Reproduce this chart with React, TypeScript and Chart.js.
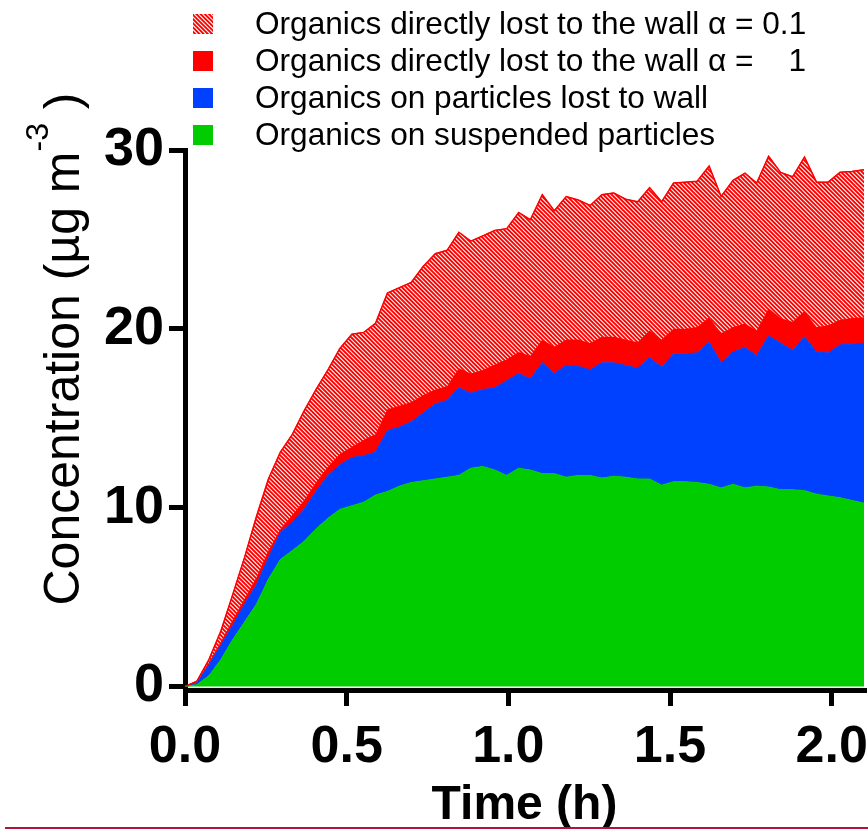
import React, { useEffect, useRef } from "react";
import { Chart, registerables } from "chart.js";

Chart.register(...registerables);

// Time (h)
const timeH = [
  0, 0.037, 0.074, 0.111, 0.147, 0.184, 0.221, 0.258, 0.295, 0.332,
  0.368, 0.405, 0.442, 0.479, 0.516, 0.553, 0.589, 0.626, 0.663, 0.7,
  0.737, 0.774, 0.811, 0.847, 0.884, 0.921, 0.958, 0.995, 1.032, 1.068,
  1.105, 1.142, 1.179, 1.216, 1.253, 1.289, 1.326, 1.363, 1.4, 1.437,
  1.474, 1.511, 1.547, 1.584, 1.621, 1.658, 1.695, 1.732, 1.768, 1.805,
  1.842, 1.879, 1.916, 1.953, 1.989, 2.026, 2.063, 2.1,
];

// Organics on suspended particles (top of green layer)
const suspendedParticles = [
  0, 0.1, 0.6, 1.5, 2.6, 3.6, 4.6, 6.0, 7.1, 7.6,
  8.1, 8.8, 9.4, 9.9, 10.1, 10.3, 10.7, 10.9, 11.2, 11.4,
  11.5, 11.6, 11.7, 11.8, 12.2, 12.3, 12.1, 11.8, 12.2, 12.1,
  11.9, 11.9, 11.7, 11.8, 11.8, 11.65, 11.75, 11.7, 11.6, 11.6,
  11.25, 11.45, 11.45, 11.4, 11.3, 11.1, 11.3, 11.1, 11.2, 11.15,
  11.0, 11.0, 10.95, 10.75, 10.65, 10.55, 10.4, 10.25,
];

// + Organics on particles lost to wall (top of blue layer)
const particlesLostTotal = [
  0, 0.2, 1.2, 2.3, 3.4, 4.6, 5.7, 7.2, 8.6, 9.2,
  9.9, 10.9, 11.8, 12.4, 12.8, 12.9, 13.1, 14.3, 14.5, 14.8,
  15.3, 15.8, 16.0, 16.7, 16.4, 16.6, 16.7, 17.1, 17.5, 17.2,
  18.1, 17.5, 17.95, 17.9, 17.7, 18.1, 18.1, 17.95, 17.8, 18.4,
  17.85, 18.6, 18.6, 18.65, 19.25, 18.1, 18.7, 18.95, 18.5, 19.6,
  19.2, 18.8, 19.55, 18.7, 18.65, 19.1, 19.15, 19.2,
];

// + Organics directly lost to the wall, alpha = 1 (top of solid red layer)
const wallAlpha1Total = [
  0, 0.25, 1.35, 2.5, 3.7, 4.9, 6.1, 7.6, 8.8, 9.6,
  10.4, 11.4, 12.3, 13.0, 13.4, 13.8, 14.1, 15.5, 15.7, 15.9,
  16.3, 16.6, 16.8, 17.8, 17.5, 17.7, 18.0, 18.3, 18.7, 18.5,
  19.4, 19.0, 19.4, 19.4, 19.2, 19.55, 19.55, 19.4, 19.25, 19.9,
  19.4, 20.0, 20.0, 20.1, 20.65, 19.75, 20.1, 20.3, 19.9, 21.15,
  20.6, 20.4, 21.0, 20.1, 20.2, 20.5, 20.6, 20.65,
];

// + Organics directly lost to the wall, alpha = 0.1 (top of hatched layer)
const wallAlpha01Total = [
  0, 0.3, 1.5, 3.1, 5.1, 7.2, 9.5, 11.6, 13.1, 14.1,
  15.4, 16.6, 17.7, 18.9, 19.7, 19.8, 20.3, 22.0, 22.3, 22.6,
  23.5, 24.2, 24.4, 25.4, 24.9, 25.2, 25.5, 25.6, 26.5, 26.1,
  27.5, 26.6, 27.4, 27.2, 26.9, 27.5, 27.6, 27.25, 27.1, 27.9,
  27.1, 28.15, 28.2, 28.25, 29.1, 27.4, 28.3, 28.7, 28.15, 29.65,
  28.75, 28.5, 29.6, 28.2, 28.2, 28.75, 28.8, 28.9,
];

const seriesLabels = [
  "Organics on suspended particles",
  "Organics on particles lost to wall",
  "Organics directly lost to the wall \u03b1 =    1",
  "Organics directly lost to the wall \u03b1 = 0.1",
];

const xTickValues = [0, 0.5, 1.0, 1.5, 2.0];
const yTickValues = [0, 10, 20, 30];

const GREEN = "#00cc00";
const BLUE = "#0040ff";
const RED = "#ff0000";
const FONT = '"Liberation Sans", Arial, Helvetica, sans-serif';

function hatchArea(ctx: CanvasRenderingContext2D, left: number, top: number, right: number, bottom: number) {
  const h = bottom - top;
  ctx.strokeStyle = "rgba(255,255,255,0.95)";
  ctx.lineWidth = 1.1;
  ctx.beginPath();
  for (let c = left - h - 4; c <= right + 4; c += 4.2) {
    ctx.moveTo(c, top);
    ctx.lineTo(c + h, bottom);
  }
  ctx.stroke();
}

const overlayPlugin = {
  id: "overlay",
  afterDatasetsDraw(chart: any) {
    const ctx: CanvasRenderingContext2D = chart.ctx;
    const top = chart.getDatasetMeta(3).data;
    const below = chart.getDatasetMeta(2).data;
    const a = chart.chartArea;
    ctx.save();
    ctx.beginPath();
    ctx.rect(a.left, a.top - 10, a.right - a.left, a.bottom - a.top + 10);
    ctx.clip();
    ctx.beginPath();
    top.forEach((p: any, i: number) => (i ? ctx.lineTo(p.x, p.y) : ctx.moveTo(p.x, p.y)));
    for (let i = below.length - 1; i >= 0; i--) ctx.lineTo(below[i].x, below[i].y);
    ctx.closePath();
    ctx.clip();
    hatchArea(ctx, a.left, a.top - 10, a.right, a.bottom);
    ctx.restore();

    ctx.save();
    ctx.strokeStyle = RED;
    ctx.lineWidth = 1.5;
    ctx.beginPath();
    top.forEach((p: any, i: number) => (i ? ctx.lineTo(p.x, p.y) : ctx.moveTo(p.x, p.y)));
    ctx.stroke();
    ctx.restore();
  },
  afterDraw(chart: any) {
    const ctx: CanvasRenderingContext2D = chart.ctx;
    ctx.save();

    // Legend (top to bottom: last dataset first)
    const ds = chart.data.datasets;
    const boxX = 193;
    const boxSize = 20;
    const textX = 255;
    const firstRow = 24;
    const pitch = 37;
    ctx.font = `31.6px ${FONT}`;
    ctx.textBaseline = "middle";
    ctx.textAlign = "left";
    for (let r = 0; r < ds.length; r++) {
      const d = ds[ds.length - 1 - r];
      const cy = firstRow + r * pitch;
      ctx.fillStyle = d.backgroundColor;
      ctx.fillRect(boxX, cy - boxSize / 2, boxSize, boxSize);
      if (d.hatched) {
        ctx.save();
        ctx.beginPath();
        ctx.rect(boxX, cy - boxSize / 2, boxSize, boxSize);
        ctx.clip();
        hatchArea(ctx, boxX, cy - boxSize / 2, boxX + boxSize, cy + boxSize / 2);
        ctx.restore();
      }
      ctx.fillStyle = "#000";
      ctx.fillText(d.label, textX, cy + 1);
    }

    // Y axis title with superscript
    ctx.save();
    ctx.translate(79, 349);
    ctx.rotate(-Math.PI / 2);
    ctx.textBaseline = "alphabetic";
    const mainFont = `50px ${FONT}`;
    const supFont = `32px ${FONT}`;
    const part1 = "Concentration (\u00b5g m";
    const sup = "-3";
    const part2 = " )";
    ctx.font = mainFont;
    const w1 = ctx.measureText(part1).width;
    const w3 = ctx.measureText(part2).width;
    ctx.font = supFont;
    const w2 = ctx.measureText(sup).width;
    const total = w1 + w2 + w3;
    let x = -total / 2;
    ctx.fillStyle = "#000";
    ctx.textAlign = "left";
    ctx.font = mainFont;
    ctx.fillText(part1, x, 0);
    x += w1;
    ctx.font = supFont;
    ctx.fillText(sup, x, -31);
    x += w2;
    ctx.font = mainFont;
    ctx.fillText(part2, x, 0);
    ctx.restore();

    // X axis title
    ctx.font = `bold 48px ${FONT}`;
    ctx.textAlign = "center";
    ctx.textBaseline = "alphabetic";
    ctx.fillStyle = "#000";
    const xs = chart.scales.x;
    ctx.fillText("Time (h)", (xs.left + xs.right) / 2, 819);

    // bottom rule
    ctx.fillStyle = "#b3133a";
    ctx.fillRect(5, 827, 863, 2);

    ctx.restore();
  },
};

export default function App() {
  const ref = useRef<HTMLCanvasElement>(null);

  useEffect(() => {
    const canvas = ref.current!;
    const ctx = canvas.getContext("2d")!;

    const mk = (label: string, ys: number[], color: string, fill: any, hatched = false) => ({
      label,
      data: timeH.map((t, i) => ({ x: t, y: ys[i] })),
      backgroundColor: color,
      borderColor: color,
      borderWidth: 1,
      pointRadius: 0,
      tension: 0,
      fill,
      hatched,
    });

    const chart = new Chart(ctx, {
      type: "line",
      data: {
        datasets: [
          mk(seriesLabels[0], suspendedParticles, GREEN, "origin"),
          mk(seriesLabels[1], particlesLostTotal, BLUE, "-1"),
          mk(seriesLabels[2], wallAlpha1Total, RED, "-1"),
          mk(seriesLabels[3], wallAlpha01Total, RED, "-1", true),
        ] as any,
      },
      options: {
        responsive: false,
        animation: false,
        devicePixelRatio: 1,
        layout: { padding: { top: 150, right: 4, left: 0, bottom: 0 } },
        plugins: {
          legend: { display: false },
          tooltip: { enabled: false },
        },
        scales: {
          x: {
            type: "linear",
            min: 0,
            max: 2.1,
            afterBuildTicks: (s: any) => {
              s.ticks = xTickValues.map((v) => ({ value: v }));
            },
            afterFit: (s: any) => {
              s.height = 141;
              s.paddingLeft = 0;
              s.paddingRight = 0;
            },
            ticks: {
              callback: (v: any) => Number(v).toFixed(1),
              font: { family: FONT, size: 52, weight: "bold" },
              color: "#000",
              padding: 10,
              maxRotation: 0,
              autoSkip: false,
            },
            grid: {
              drawOnChartArea: false,
              drawTicks: true,
              tickLength: 16,
              lineWidth: 5,
              color: "#000",
            },
            border: { display: true, width: 5, color: "#000" },
          },
          y: {
            type: "linear",
            min: -0.2,
            max: 30,
            afterBuildTicks: (s: any) => {
              s.ticks = yTickValues.map((v) => ({ value: v }));
            },
            afterFit: (s: any) => {
              s.width = 185;
              s.paddingTop = 0;
              s.paddingBottom = 0;
            },
            ticks: {
              font: { family: FONT, size: 54, weight: "bold" },
              color: "#000",
              padding: 5,
              autoSkip: false,
            },
            grid: {
              drawOnChartArea: false,
              drawTicks: true,
              tickLength: 16,
              lineWidth: 5,
              color: "#000",
            },
            border: { display: true, width: 5, color: "#000" },
          },
        },
      } as any,
      plugins: [overlayPlugin],
    });

    return () => chart.destroy();
  }, []);

  return (
    <div style={{ position: "fixed", left: 0, top: 0, width: 868, height: 831, background: "#fff" }}>
      <canvas ref={ref} width={868} height={831} style={{ display: "block" }} />
    </div>
  );
}
